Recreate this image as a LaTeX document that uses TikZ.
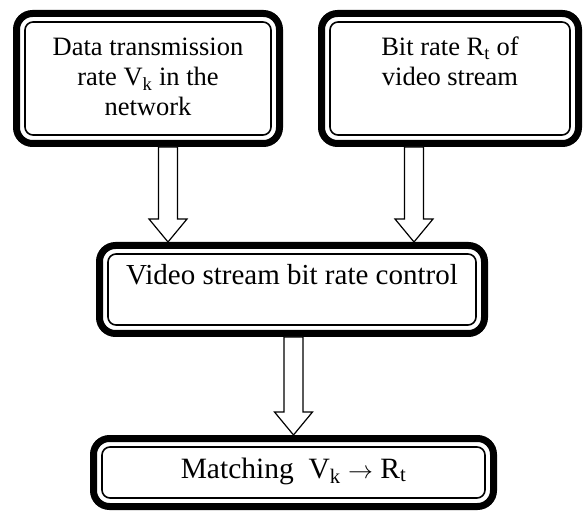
\documentclass[tikz,border=0pt]{standalone}
\usepackage{fontspec}
\setmainfont{Liberation Serif}
\usetikzlibrary{calc}
\tikzset{
  box/.style={draw=black, line width=7pt, rounded corners=16pt, fill=white,
    inner sep=0pt, outer sep=0pt, font=\fontsize{26.5}{30}\selectfont},
  innerline/.style={draw=black, line width=1.6pt, rounded corners=8pt},
  blockarrowline/.style={draw=black, fill=white, line width=1.2pt, line join=miter},
}
\newcommand\blockarr[2]{%
  \draw[blockarrowline] let \p1=(#1), \p2=(#2) in
    (\x1-9.5pt,\y1) -- (\x1-9.5pt,\y2+23pt) -- (\x1-19pt,\y2+23pt) -- (\x1,\y2)
    -- (\x1+19pt,\y2+23pt) -- (\x1+9.5pt,\y2+23pt) -- (\x1+9.5pt,\y1) -- cycle;}
\begin{document}
\begin{tikzpicture}[x=1pt,y=1pt]
\useasboundingbox (0,0) rectangle (584,512);
\node[box, minimum width=263pt, minimum height=130pt] (b1) at (148,433.5)
  {\parbox[c][87pt][t]{250pt}{\centering\strut Data transmission\\ rate V\textsubscript{k} in the\\ network}};
\node[box, minimum width=257pt, minimum height=130pt] (b2) at (450,433.5)
  {\parbox[c][87pt][t]{245pt}{\centering\strut Bit rate R\textsubscript{t} of\\ video stream}};
\node[box, minimum width=385pt, minimum height=88pt, font=\fontsize{29}{33}\selectfont] (b3) at (292,222.5)
  {\parbox[c][57pt][t]{370pt}{\centering\strut Video stream bit rate control}};
\node[box, minimum width=400pt, minimum height=68pt, font=\fontsize{29.5}{34}\selectfont] (b4) at (293.5,39.5)
  {\parbox[c][36.6pt][t]{385pt}{\centering\strut Matching~ V\textsubscript{k} $\rightarrow$ R\textsubscript{t}}};
\foreach \b in {b1,b2,b3,b4}{
  \draw[innerline] ([shift={(8.5pt,-8.5pt)}]\b.north west) rectangle ([shift={(-8.5pt,8.5pt)}]\b.south east);
}
\coordinate (a1s) at ($(b1.south)+(20pt,-3.5pt)$);
\coordinate (a1e) at ($(b3.north)+(-124pt,3.5pt)$);
\coordinate (a2s) at ($(b2.south)+(-36pt,-3.5pt)$);
\coordinate (a2e) at ($(b3.north)+(122pt,3.5pt)$);
\coordinate (a3s) at ($(b3.south)+(1.5pt,-3.5pt)$);
\coordinate (a3e) at ($(b4.north)+(1.5pt,3.5pt)$);
\blockarr{a1s}{a1e}
\blockarr{a2s}{a2e}
\blockarr{a3s}{a3e}
\end{tikzpicture}
\end{document}
